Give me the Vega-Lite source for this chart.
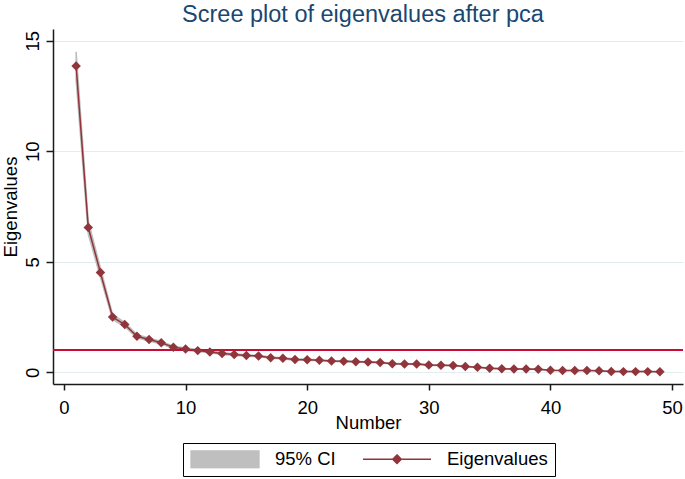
{
  "$schema": "https://vega.github.io/schema/vega-lite/v6.json",
  "width": 630,
  "height": 355,
  "autosize": {"type": "none"},
  "padding": {"left": 53, "top": 29, "right": 2, "bottom": 95},
  "background": "white",
  "title": {
    "text": "Scree plot of eigenvalues after pca",
    "font": "Liberation Sans",
    "fontSize": 23.5,
    "fontWeight": "normal",
    "color": "#1a476f",
    "anchor": "middle",
    "offset": 3,
    "dx": -5
  },
  "data": {
    "values": [
      {"n": 1, "eig": 13.86, "lo": 13.22, "hi": 14.5},
      {"n": 2, "eig": 6.55, "lo": 6.25, "hi": 6.85},
      {"n": 3, "eig": 4.51, "lo": 4.3, "hi": 4.72},
      {"n": 4, "eig": 2.5, "lo": 2.39, "hi": 2.62},
      {"n": 5, "eig": 2.16, "lo": 2.06, "hi": 2.26},
      {"n": 6, "eig": 1.63, "lo": 1.56, "hi": 1.7},
      {"n": 7, "eig": 1.48, "lo": 1.41, "hi": 1.55},
      {"n": 8, "eig": 1.34, "lo": 1.28, "hi": 1.4},
      {"n": 9, "eig": 1.13, "lo": 1.08, "hi": 1.18},
      {"n": 10, "eig": 1.05, "lo": 1.0, "hi": 1.1},
      {"n": 11, "eig": 0.98, "lo": 0.94, "hi": 1.03},
      {"n": 12, "eig": 0.92, "lo": 0.88, "hi": 0.96},
      {"n": 13, "eig": 0.85, "lo": 0.81, "hi": 0.89},
      {"n": 14, "eig": 0.8, "lo": 0.76, "hi": 0.84},
      {"n": 15, "eig": 0.76, "lo": 0.73, "hi": 0.79},
      {"n": 16, "eig": 0.74, "lo": 0.71, "hi": 0.77},
      {"n": 17, "eig": 0.66, "lo": 0.63, "hi": 0.69},
      {"n": 18, "eig": 0.63, "lo": 0.6, "hi": 0.66},
      {"n": 19, "eig": 0.58, "lo": 0.55, "hi": 0.61},
      {"n": 20, "eig": 0.57, "lo": 0.54, "hi": 0.6},
      {"n": 21, "eig": 0.54, "lo": 0.52, "hi": 0.56},
      {"n": 22, "eig": 0.51, "lo": 0.49, "hi": 0.53},
      {"n": 23, "eig": 0.5, "lo": 0.48, "hi": 0.52},
      {"n": 24, "eig": 0.48, "lo": 0.46, "hi": 0.5},
      {"n": 25, "eig": 0.46, "lo": 0.44, "hi": 0.48},
      {"n": 26, "eig": 0.44, "lo": 0.42, "hi": 0.46},
      {"n": 27, "eig": 0.39, "lo": 0.37, "hi": 0.41},
      {"n": 28, "eig": 0.38, "lo": 0.36, "hi": 0.4},
      {"n": 29, "eig": 0.37, "lo": 0.35, "hi": 0.39},
      {"n": 30, "eig": 0.33, "lo": 0.31, "hi": 0.35},
      {"n": 31, "eig": 0.32, "lo": 0.31, "hi": 0.33},
      {"n": 32, "eig": 0.31, "lo": 0.3, "hi": 0.32},
      {"n": 33, "eig": 0.26, "lo": 0.25, "hi": 0.27},
      {"n": 34, "eig": 0.23, "lo": 0.22, "hi": 0.24},
      {"n": 35, "eig": 0.18, "lo": 0.17, "hi": 0.19},
      {"n": 36, "eig": 0.16, "lo": 0.15, "hi": 0.17},
      {"n": 37, "eig": 0.15, "lo": 0.14, "hi": 0.16},
      {"n": 38, "eig": 0.15, "lo": 0.14, "hi": 0.16},
      {"n": 39, "eig": 0.14, "lo": 0.13, "hi": 0.15},
      {"n": 40, "eig": 0.09, "lo": 0.086, "hi": 0.094},
      {"n": 41, "eig": 0.08, "lo": 0.076, "hi": 0.084},
      {"n": 42, "eig": 0.08, "lo": 0.076, "hi": 0.084},
      {"n": 43, "eig": 0.08, "lo": 0.076, "hi": 0.084},
      {"n": 44, "eig": 0.07, "lo": 0.067, "hi": 0.073},
      {"n": 45, "eig": 0.04, "lo": 0.038, "hi": 0.042},
      {"n": 46, "eig": 0.03, "lo": 0.029, "hi": 0.031},
      {"n": 47, "eig": 0.03, "lo": 0.029, "hi": 0.031},
      {"n": 48, "eig": 0.03, "lo": 0.029, "hi": 0.031},
      {"n": 49, "eig": 0.02, "lo": 0.019, "hi": 0.021}
    ]
  },
  "layer": [
    {
      "mark": {"type": "area", "opacity": 1, "stroke": "#bfbfbf", "strokeWidth": 1.5},
      "encoding": {
        "x": {
          "field": "n",
          "type": "quantitative",
          "scale": {"domain": [-0.9, 50.9], "nice": false, "zero": false},
          "axis": {
            "values": [0, 10, 20, 30, 40, 50],
            "grid": false,
            "title": "Number",
            "labelAngle": 0,
            "labelPadding": 8,
            "labelFlush": false,
            "labelOverlap": false,
            "tickSize": 6,
            "titleBaseline": "alphabetic",
            "titleY": 44
          }
        },
        "y": {
          "field": "lo",
          "type": "quantitative",
          "scale": {"domain": [-0.53, 15.53], "nice": false, "zero": false},
          "axis": {
            "values": [0, 5, 10, 15],
            "grid": true,
            "title": "Eigenvalues",
            "labelAngle": -90,
            "labelAlign": "center",
            "labelBaseline": "alphabetic",
            "labelPadding": 8,
            "tickSize": 7,
            "titleAngle": -90,
            "titleAlign": "center",
            "titleBaseline": "alphabetic",
            "titleX": -37,
            "titleY": 177.5
          }
        },
        "y2": {"field": "hi"},
        "color": {
          "datum": "95% CI",
          "type": "nominal",
          "scale": {"domain": ["95% CI", "Eigenvalues"], "range": ["#bfbfbf", "#90353b"]},
          "legend": {
            "title": null,
            "orient": "none",
            "legendX": 130,
            "legendY": 414,
            "direction": "horizontal",
            "symbolSize": 4624,
            "clipHeight": 18,
            "labelOffset": 15,
            "columnPadding": 26,
            "padding": 7,
            "strokeColor": "#000000",
            "labelFont": "Liberation Sans",
            "labelFontSize": 18.5,
            "labelColor": "#000000",
            "encode": {
              "symbols": {
                "update": {
                  "shape": {"signal": "datum.value === '95% CI' ? 'M-1,-0.25L1,-0.25L1,0.25L-1,0.25Z' : 'M-1,0L1,0M0,-0.13L0.13,0L0,0.13L-0.13,0Z'"},
                  "fill": {"signal": "datum.value === '95% CI' ? '#bfbfbf' : '#90353b'"},
                  "stroke": {"signal": "datum.value === '95% CI' ? 'transparent' : '#90353b'"},
                  "strokeWidth": {"value": 1.3},
                  "opacity": {"value": 1}
                }
              }
            }
          }
        }
      }
    },
    {
      "mark": {"type": "rule", "color": "#c90c35", "strokeWidth": 1.2},
      "encoding": {"y": {"datum": 1}}
    },
    {
      "mark": {
        "type": "line",
        "strokeWidth": 1.5,
        "point": {"shape": "diamond", "size": 90, "filled": true, "opacity": 1}
      },
      "encoding": {
        "x": {"field": "n", "type": "quantitative"},
        "y": {"field": "eig", "type": "quantitative"},
        "color": {
          "datum": "Eigenvalues",
          "type": "nominal",
          "legend": {
            "title": null,
            "orient": "none",
            "legendX": 130,
            "legendY": 414,
            "direction": "horizontal",
            "symbolSize": 4624,
            "clipHeight": 18,
            "labelOffset": 15,
            "columnPadding": 26,
            "padding": 7,
            "strokeColor": "#000000",
            "labelFont": "Liberation Sans",
            "labelFontSize": 18.5,
            "labelColor": "#000000",
            "encode": {
              "symbols": {
                "update": {
                  "shape": {"signal": "datum.value === '95% CI' ? 'M-1,-0.25L1,-0.25L1,0.25L-1,0.25Z' : 'M-1,0L1,0M0,-0.13L0.13,0L0,0.13L-0.13,0Z'"},
                  "fill": {"signal": "datum.value === '95% CI' ? '#bfbfbf' : '#90353b'"},
                  "stroke": {"signal": "datum.value === '95% CI' ? 'transparent' : '#90353b'"},
                  "strokeWidth": {"value": 1.3},
                  "opacity": {"value": 1}
                }
              }
            }
          }
        }
      }
    }
  ],
  "config": {
    "view": {"stroke": null},
    "font": "Liberation Sans",
    "axis": {
      "domainColor": "#1a1a1a",
      "domainWidth": 1.5,
      "tickColor": "#1a1a1a",
      "tickWidth": 1.5,
      "labelFont": "Liberation Sans",
      "labelFontSize": 18.5,
      "labelColor": "#000000",
      "titleFont": "Liberation Sans",
      "titleFontSize": 18.5,
      "titleFontWeight": "normal",
      "titleColor": "#000000",
      "gridColor": "#e3ecef",
      "gridWidth": 1
    }
  }
}
